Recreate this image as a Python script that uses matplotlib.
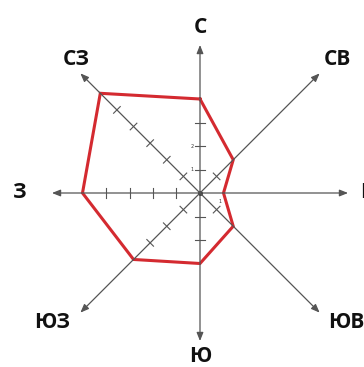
import numpy as np
import matplotlib.pyplot as plt

directions = ["С", "СВ", "В", "ЮВ", "Ю", "ЮЗ", "З", "СЗ"]
angles_deg = [90, 45, 0, -45, -90, -135, 180, 135]
values = [4, 2, 1, 2, 3, 4, 5, 6]
# number of tick marks drawn on each axis
tick_counts = [3, 1, 0, 1, 2, 3, 4, 5]

PX = 23.5  # pixels per unit
fig = plt.figure(figsize=(3.64, 3.67), dpi=100)
ax = fig.add_axes([0, 0, 1, 1])
ax.set_xlim(-200 / PX, 164 / PX)
ax.set_ylim(-(367 - 193) / PX, 193 / PX)
ax.set_aspect("equal")
ax.axis("off")

grey = "#555555"
ang = np.radians(angles_deg)

for a, deg, n in zip(ang, angles_deg, tick_counts):
    length = 6.3 if deg % 90 == 0 else 7.2
    ax.annotate("", xy=(length * np.cos(a), length * np.sin(a)), xytext=(0, 0),
                arrowprops=dict(arrowstyle="-|>,head_length=0.5,head_width=0.2",
                                color=grey, lw=0.9, shrinkA=0, shrinkB=0))
    # tick marks perpendicular to the axis
    px, py = -np.sin(a), np.cos(a)
    for k in range(1, n + 1):
        cx, cy = k * np.cos(a), k * np.sin(a)
        h = 0.2
        ax.plot([cx - h * px, cx + h * px], [cy - h * py, cy + h * py],
                color=grey, lw=0.8)

ax.plot(0, 0, "o", color="#222222", ms=2.5)

# wind rose polygon
xs = [v * np.cos(a) for v, a in zip(values, ang)]
ys = [v * np.sin(a) for v, a in zip(values, ang)]
xs.append(xs[0])
ys.append(ys[0])
ax.plot(xs, ys, color="#d42a30", lw=2.2, solid_joinstyle="miter")

# small scale labels
ax.text(-0.35, 1, "1", fontsize=3.5, ha="center", va="center", color="#333333")
ax.text(-0.35, 2, "2", fontsize=3.5, ha="center", va="center", color="#333333")
ax.text(0.85, -0.35, "1", fontsize=3.5, ha="center", va="center", color="#333333")

# direction labels
label_pos = {
    "С": (0, 7.06, "center"),
    "СВ": (5.83, 5.66, "center"),
    "В": (6.8, 0, "left"),
    "ЮВ": (5.45, -5.5, "left"),
    "Ю": (0, -6.95, "center"),
    "ЮЗ": (-6.3, -5.5, "center"),
    "З": (-7.65, 0, "center"),
    "СЗ": (-5.25, 5.7, "center"),
}
for d in directions:
    x, y, ha = label_pos[d]
    ax.text(x, y, d, fontsize=15, fontweight="bold", ha=ha, va="center",
            color="#111111", family="Open Sans")

fig.savefig("out.png", dpi=100)
